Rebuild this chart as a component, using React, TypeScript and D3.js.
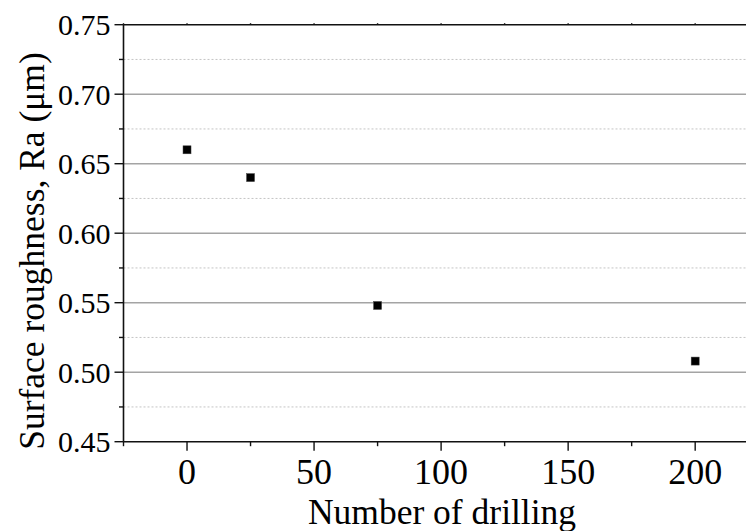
import React from "react";
import * as d3 from "d3";

// Drilling count vs. measured surface roughness
const drillCounts = [0, 25, 75, 200];
const roughness = [0.66, 0.64, 0.548, 0.508];

const xMajorTicks = [0, 50, 100, 150, 200];
const xMinorTicks = [-25, 25, 75, 125, 175];
const yMajorTicks = [0.45, 0.5, 0.55, 0.6, 0.65, 0.7, 0.75];
const yMinorTicks = [0.475, 0.525, 0.575, 0.625, 0.675, 0.725];

const W = 748;
const H = 531;
const left = 123.5;
const right = 746;
const top = 24.7;
const bottom = 441.7;

const serif = { fontFamily: "'Liberation Serif', 'Times New Roman', serif" };

export default function App() {
  const x = d3.scaleLinear().domain([-25, 220]).range([left, right]);
  const y = d3.scaleLinear().domain([0.45, 0.75]).range([bottom, top]);
  const allXTicks = [...xMajorTicks, ...xMinorTicks];

  return (
    <svg
      width={W}
      height={H}
      style={{ position: "absolute", left: 0, top: 0, background: "#fff" }}
    >
      {/* minor gridlines */}
      {yMinorTicks.map((v) => (
        <line
          key={"gm" + v}
          x1={left}
          x2={right}
          y1={y(v)}
          y2={y(v)}
          stroke="#c4c4c4"
          strokeWidth={1}
          strokeDasharray="2,2"
        />
      ))}
      {/* major gridlines */}
      {yMajorTicks
        .filter((v) => v > 0.45 && v < 0.75)
        .map((v) => (
          <line
            key={"gM" + v}
            x1={left}
            x2={right}
            y1={y(v)}
            y2={y(v)}
            stroke="#a4a4a4"
            strokeWidth={1.4}
          />
        ))}

      {/* top frame line with small ticks */}
      <line x1={left} x2={right} y1={top} y2={top} stroke="#111" strokeWidth={1.6} />
      {allXTicks.map((v) => (
        <line key={"tt" + v} x1={x(v)} x2={x(v)} y1={top} y2={top - 1.5} stroke="#111" strokeWidth={1.4} />
      ))}

      {/* x axis */}
      <line x1={left} x2={right} y1={bottom} y2={bottom} stroke="#111" strokeWidth={1.6} />
      {xMajorTicks.map((v) => (
        <g key={"xt" + v}>
          <line x1={x(v)} x2={x(v)} y1={bottom} y2={bottom + 9} stroke="#111" strokeWidth={1.4} />
          <text x={x(v)} y={bottom + 42} textAnchor="middle" fontSize={36} fill="#000" style={serif}>
            {v}
          </text>
        </g>
      ))}
      {xMinorTicks.map((v) => (
        <line key={"xm" + v} x1={x(v)} x2={x(v)} y1={bottom} y2={bottom + 4.5} stroke="#111" strokeWidth={1.4} />
      ))}

      {/* y axis */}
      <line x1={left} x2={left} y1={top} y2={bottom} stroke="#111" strokeWidth={1.6} />
      {yMajorTicks.map((v) => (
        <g key={"yt" + v}>
          <line x1={left} x2={left - 9} y1={y(v)} y2={y(v)} stroke="#111" strokeWidth={1.4} />
          <text
            x={left - 13}
            y={y(v)}
            dy="0.35em"
            textAnchor="end"
            fontSize={30}
            fill="#000"
            style={serif}
          >
            {d3.format(".2f")(v)}
          </text>
        </g>
      ))}
      {yMinorTicks.map((v) => (
        <line key={"ym" + v} x1={left} x2={left - 4.5} y1={y(v)} y2={y(v)} stroke="#111" strokeWidth={1.4} />
      ))}

      {/* data points */}
      {drillCounts.map((d, i) => (
        <rect
          key={"p" + i}
          x={x(d) - 4}
          y={y(roughness[i]) - 4}
          width={8}
          height={8}
          fill="#000"
          stroke="#444"
          strokeWidth={0.5}
        />
      ))}

      {/* axis titles */}
      <text x={442} y={524} textAnchor="middle" fontSize={35.5} fill="#000" style={serif}>
        Number of drilling
      </text>
      <text
        transform="translate(44, 251) rotate(-90)"
        textAnchor="middle"
        fontSize={35.5}
        fill="#000"
        style={serif}
      >
        Surface roughness, Ra (μm)
      </text>
    </svg>
  );
}
